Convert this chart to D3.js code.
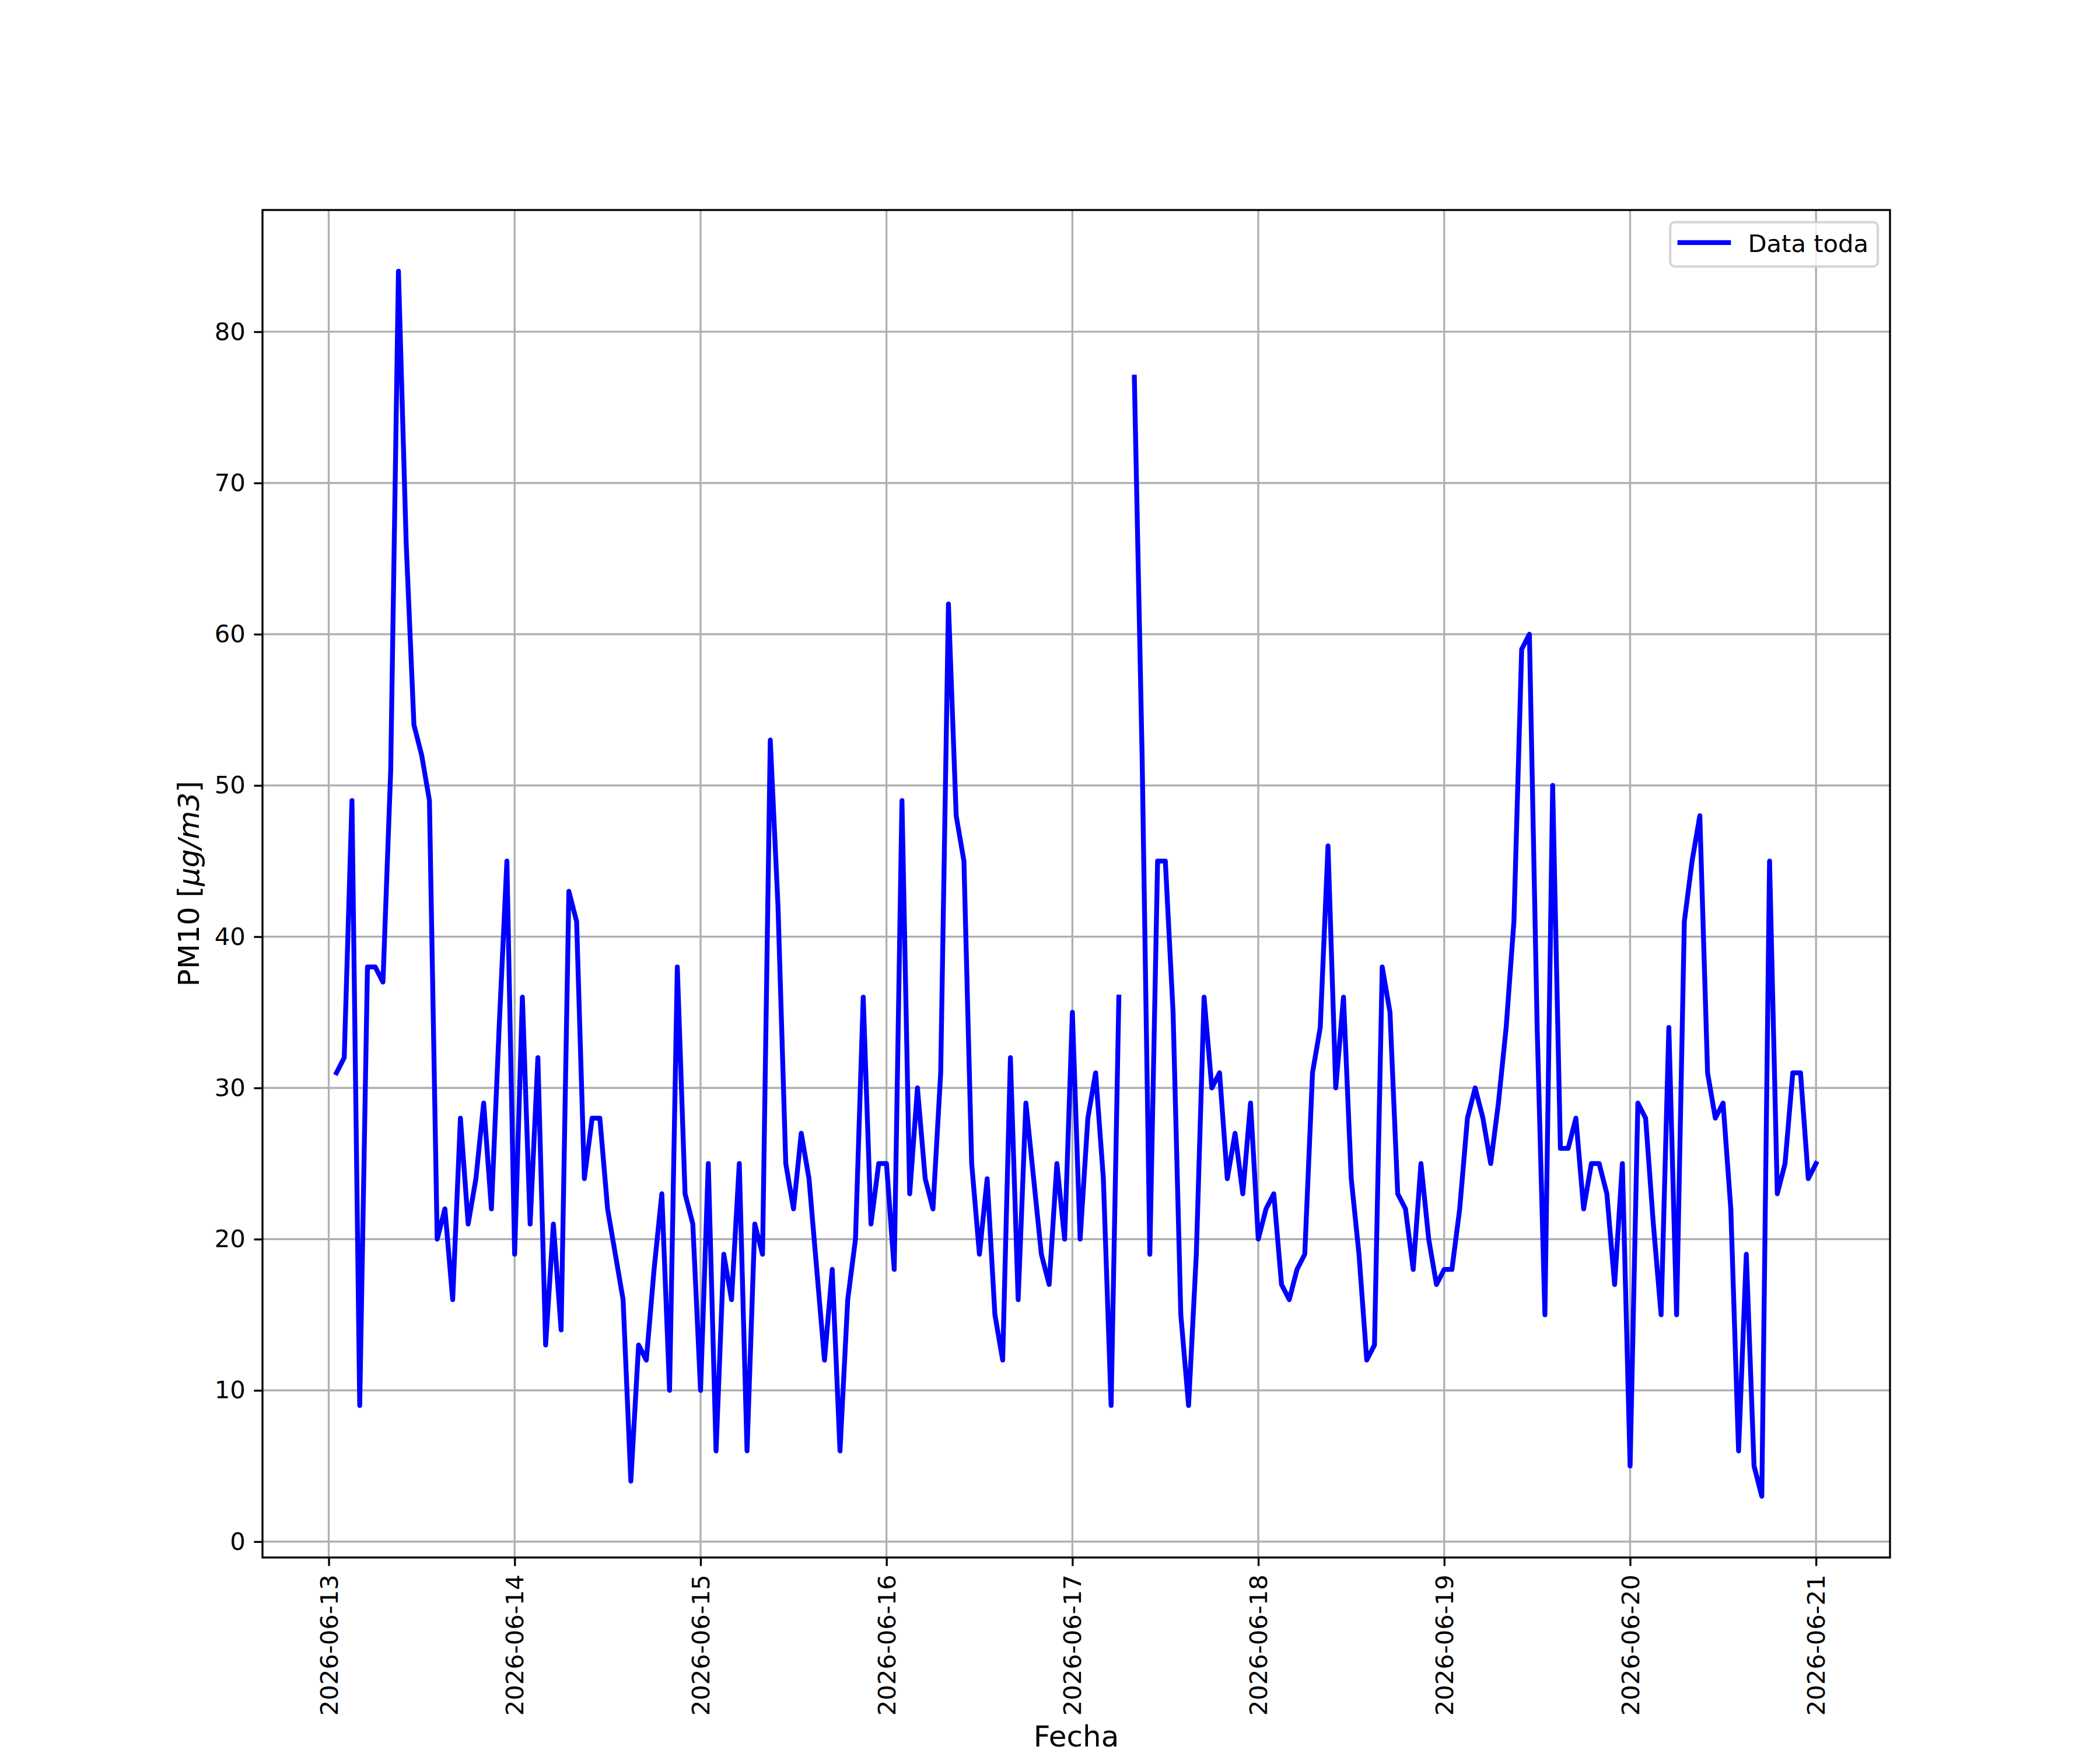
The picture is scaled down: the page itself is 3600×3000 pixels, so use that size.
<!DOCTYPE html>
<html>
<head>
<meta charset="utf-8">
<script src="https://cdn.jsdelivr.net/npm/d3@7"></script>
<style>
  body { margin: 0; background: #fff; }
  text { font-family: "DejaVu Sans", sans-serif; }
</style>
</head>
<body>
<script>
// hourly PM10 readings, first one at 2026-06-13 01:00, null = missing hour
const startTime = Date.UTC(2026, 5, 13, 1);
const stepMs = 3600 * 1000;
const pm10 = [
  31, 32, 49, 9, 38, 38, 37, 51, 84, 66, 54, 52, 49, 20, 22, 16, 28, 21, 24, 29, 22, 34, 45, 19,
  36, 21, 32, 13, 21, 14, 43, 41, 24, 28, 28, 22, 19, 16, 4, 13, 12, 18, 23, 10, 38, 23, 21, 10,
  25, 6, 19, 16, 25, 6, 21, 19, 53, 42, 25, 22, 27, 24, 18, 12, 18, 6, 16, 20, 36, 21, 25, 25,
  18, 49, 23, 30, 24, 22, 31, 62, 48, 45, 25, 19, 24, 15, 12, 32, 16, 29, 24, 19, 17, 25, 20, 35,
  20, 28, 31, 24, 9, 36, null, 77, 52, 19, 45, 45, 35, 15, 9, 19, 36, 30, 31, 24, 27, 23, 29, 20,
  22, 23, 17, 16, 18, 19, 31, 34, 46, 30, 36, 24, 19, 12, 13, 38, 35, 23, 22, 18, 25, 20, 17, 18,
  18, 22, 28, 30, 28, 25, 29, 34, 41, 59, 60, 34, 15, 50, 26, 26, 28, 22, 25, 25, 23, 17, 25, 5,
  29, 28, 21, 15, 34, 15, 41, 45, 48, 31, 28, 29, 22, 6, 19, 5, 3, 45, 23, 25, 31, 31, 24, 25
];
const dayTicks = ["2026-06-13", "2026-06-14", "2026-06-15", "2026-06-16", "2026-06-17",
                  "2026-06-18", "2026-06-19", "2026-06-20", "2026-06-21"];
const yTicks = [0, 10, 20, 30, 40, 50, 60, 70, 80];
const seriesName = "Data toda";

const data = pm10.map(function (v, i) {
  return {t: new Date(startTime + i * stepMs), v: v};
});

// figure geometry (matplotlib defaults at 300 dpi)
const W = 3600, H = 3000;
const margin = {top: 360, right: 360, bottom: 330, left: 450};
const pt = 300 / 72;
const tickFont = 10 * pt, labelFont = 12 * pt;
const lineW = 2 * pt;

const svg = d3.select("body").append("svg")
  .attr("width", W)
  .attr("height", H);

const x0 = margin.left, x1 = W - margin.right;
const y0 = H - margin.bottom, y1 = margin.top;

// 5% padding like matplotlib autoscale
const tExt = d3.extent(data, d => d.t);
const tPad = (tExt[1] - tExt[0]) * 0.05;
const x = d3.scaleUtc()
  .domain([new Date(+tExt[0] - tPad), new Date(+tExt[1] + tPad)])
  .range([x0, x1]);

const vMin = d3.min(data, d => d.v), vMax = d3.max(data, d => d.v);
const vPad = (vMax - vMin) * 0.05;
const y = d3.scaleLinear()
  .domain([vMin - vPad, vMax + vPad])
  .range([y0, y1]);

const dayDates = dayTicks.map(s => d3.utcParse("%Y-%m-%d")(s));

// grid
svg.append("g").selectAll("line").data(dayDates).join("line")
  .attr("x1", d => x(d)).attr("x2", d => x(d))
  .attr("y1", y0).attr("y2", y1)
  .attr("stroke", "#b0b0b0").attr("stroke-width", 0.8 * pt);
svg.append("g").selectAll("line").data(yTicks).join("line")
  .attr("x1", x0).attr("x2", x1)
  .attr("y1", d => y(d)).attr("y2", d => y(d))
  .attr("stroke", "#b0b0b0").attr("stroke-width", 0.8 * pt);

// the line
const line = d3.line()
  .defined(d => d.v != null)
  .x(d => x(d.t))
  .y(d => y(d.v));

svg.append("path")
  .datum(data)
  .attr("fill", "none")
  .attr("stroke", "#0000ff")
  .attr("stroke-width", lineW)
  .attr("stroke-linejoin", "round")
  .attr("stroke-linecap", "square")
  .attr("d", line);

// axes
const tickLen = 3.5 * pt, tickPad = 3.5 * pt;

const xAxis = d3.axisBottom(x)
  .tickValues(dayDates)
  .tickFormat(d3.utcFormat("%Y-%m-%d"))
  .tickSizeInner(tickLen).tickSizeOuter(0).tickPadding(tickPad);
const gx = svg.append("g")
  .attr("transform", "translate(0," + y0 + ")")
  .call(xAxis);
gx.select(".domain").remove();
gx.selectAll(".tick line").attr("stroke", "#000").attr("stroke-width", 0.8 * pt);
gx.selectAll(".tick text")
  .attr("font-size", tickFont)
  .attr("fill", "#000")
  .attr("y", 0).attr("dy", "0.35em")
  .attr("text-anchor", "end")
  .attr("transform", "translate(0," + (tickLen + tickPad) + ") rotate(-90)");

const yAxis = d3.axisLeft(y)
  .tickValues(yTicks)
  .tickSizeInner(tickLen).tickSizeOuter(0).tickPadding(tickPad);
const gy = svg.append("g")
  .attr("transform", "translate(" + x0 + ",0)")
  .call(yAxis);
gy.select(".domain").remove();
gy.selectAll(".tick line").attr("stroke", "#000").attr("stroke-width", 0.8 * pt);
gy.selectAll(".tick text").attr("font-size", tickFont).attr("fill", "#000");

// spines
svg.append("rect")
  .attr("x", x0).attr("y", y1)
  .attr("width", x1 - x0).attr("height", y0 - y1)
  .attr("fill", "none").attr("stroke", "#000").attr("stroke-width", 0.8 * pt);

// axis labels
svg.append("text")
  .attr("x", (x0 + x1) / 2).attr("y", 2994)
  .attr("text-anchor", "middle")
  .attr("font-size", labelFont)
  .text("Fecha");

const yl = svg.append("text")
  .attr("transform", "translate(341," + ((y0 + y1) / 2) + ") rotate(-90)")
  .attr("text-anchor", "middle")
  .attr("font-size", labelFont);
yl.append("tspan").text("PM10 [");
yl.append("tspan").attr("font-style", "italic").text("\u03bcg/m3");
yl.append("tspan").text("]");

// legend
const lg = svg.append("g");
const lgW = 356, lgH = 76;
const lgX = x1 - 0.5 * tickFont - lgW, lgY = y1 + 0.5 * tickFont;
lg.append("rect")
  .attr("x", lgX).attr("y", lgY)
  .attr("width", lgW).attr("height", lgH)
  .attr("rx", 8).attr("ry", 8)
  .attr("fill", "#fff").attr("fill-opacity", 0.8)
  .attr("stroke", "#cccccc").attr("stroke-opacity", 0.8)
  .attr("stroke-width", 1 * pt);
lg.append("line")
  .attr("x1", lgX + 0.4 * tickFont).attr("x2", lgX + 0.4 * tickFont + 2 * tickFont)
  .attr("y1", lgY + 35).attr("y2", lgY + 35)
  .attr("stroke", "#0000ff").attr("stroke-width", lineW)
  .attr("stroke-linecap", "square");
lg.append("text")
  .attr("x", lgX + 0.4 * tickFont + 2.8 * tickFont)
  .attr("y", lgY + 51)
  .attr("font-size", tickFont)
  .text(seriesName);
</script>
</body>
</html>
